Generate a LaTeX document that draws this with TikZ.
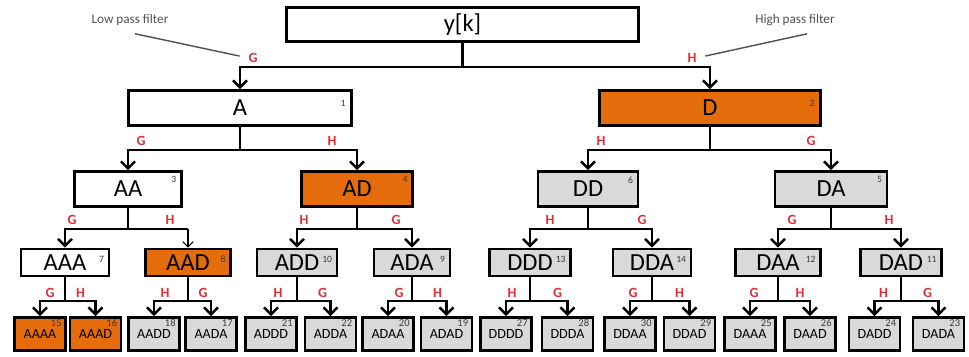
\documentclass[tikz,border=0pt]{standalone}
\usepackage{fontspec}
\setmainfont{Carlito}
\usetikzlibrary{arrows.meta}

\definecolor{bandorange}{RGB}{228,108,10}
\definecolor{bandgray}{RGB}{217,217,217}
\definecolor{fltred}{RGB}{226,46,52}
\definecolor{idxgray}{RGB}{60,60,60}
\definecolor{leadgray}{RGB}{80,80,80}

\tikzset{
  box/.style={draw, line width=1.6pt, inner sep=0pt, font=\fontsize{14}{14}\selectfont},
  leaf/.style={box, font=\fontsize{8}{8}\selectfont},
  keep/.style={fill=white},
  pick/.style={fill=bandorange},
  drop/.style={fill=bandgray},
  idx/.style={font=\fontsize{5.5}{5.5}\selectfont, text=idxgray, inner sep=0pt, anchor=north east},
  link/.style={line width=1.4pt, -{Straight Barb[length=4pt,width=8pt]}},
  thin link/.style={line width=0.6pt, -{Straight Barb[length=3pt,width=6pt]}},
  fltr/.style={text=fltred, font=\fontsize{8}{8}\selectfont\bfseries, inner sep=0pt},
  lead/.style={draw=leadgray, line width=0.8pt},
  leadtext/.style={text=leadgray, font=\fontsize{7.5}{7.5}\selectfont, inner sep=1pt},
}

\begin{document}
\begin{tikzpicture}[x=0.02cm, y=-0.02cm]
\useasboundingbox (0,0) rectangle (969,356);

% signal
\node[box, keep, minimum width=7.04cm, minimum height=0.68cm] (root) at (462.5,24.5) {y[k]};

% level 1
\foreach \n/\x/\w/\s/\k in {A/240/4.46/keep/1, D/710/4.42/pick/2}
  \node[box, \s, minimum width=\w cm, minimum height=0.70cm,
        label={[idx, xshift=-4pt, yshift=-6pt]north east:\k}] (\n) at (\x,108) {\n};

% level 2
\foreach \n/\x/\w/\s/\k in {AA/128/2.14/keep/3, AD/357/2.22/pick/4,
                            DD/588/2.0/drop/6, DA/831/2.24/drop/5}
  \node[box, \s, minimum width=\w cm, minimum height=0.70cm,
        label={[idx, xshift=-3.5pt, yshift=-3.5pt]north east:\k}] (\n) at (\x,189) {\n};

% level 3
\foreach \n/\x/\w/\s/\k in {AAA/65/1.76/keep/7, AAD/188/1.70/pick/8,
                            ADD/297/1.60/drop/10, ADA/412/1.52/drop/9,
                            DDD/530/1.62/drop/13, DDA/652/1.56/drop/14,
                            DAA/778/1.70/drop/12, DAD/901/1.62/drop/11}
  \node[box, \s, minimum width=\w cm, minimum height=0.54cm,
        label={[idx, xshift=-3.4pt, yshift=-4.5pt]north east:\k}] (\n) at (\x,262.5) {\n};

% level 4
\foreach \n/\x/\s/\k in {AAAA/40/pick/15, AAAD/95.5/pick/16, AADD/154/drop/18, AADA/211/drop/17,
                         ADDD/271/drop/21, ADDA/330.5/drop/22, ADAA/388/drop/20, ADAD/446.5/drop/19,
                         DDDD/506/drop/27, DDDA/567.5/drop/28, DDAA/630/drop/30, DDAD/689.5/drop/29,
                         DAAA/750/drop/25, DAAD/810/drop/26, DADD/874.5/drop/24, DADA/938.5/drop/23}
  \node[leaf, \s, minimum width=1.02cm, minimum height=0.66cm,
        label={[idx, font=\fontsize{6}{6}\selectfont, xshift=-2.8pt, yshift=-1.7pt]north east:\k}] (\n) at (\x,334) {\n};

% filter branches
\foreach \p/\c/\l/\o in {root/A/G/13, root/D/H/-18}
{
  \draw[link] (\p.south) -- ++(0,24) coordinate (bar-\c) -| (\c.north);
  \path (bar-\c -| \c.north) ++(\o,-9) node[fltr] (lbl-\c) {\l};
}
\foreach \p/\c/\l/\o in {A/AA/G/13, A/AD/H/-25, D/DD/H/13, D/DA/G/-20}
{
  \draw[link] (\p.south) -- ++(0,23) coordinate (bar-\c) -| (\c.north);
  \path (bar-\c -| \c.north) ++(\o,-9) node[fltr] (lbl-\c) {\l};
}
\foreach \p/\c/\l/\o in {AA/AAA/G/7, AD/ADD/H/7, AD/ADA/G/-16,
                         DD/DDD/H/20, DD/DDA/G/-10, DA/DAA/G/14, DA/DAD/H/-12}
{
  \draw[link] (\p.south) -- ++(0,21) coordinate (bar-\c) -| (\c.north);
  \path (bar-\c -| \c.north) ++(\o,-9) node[fltr] (lbl-\c) {\l};
}
% AA -> AAD ends in a thin arrow
\draw[line width=1.4pt] (AA.south) -- ++(0,21) coordinate (bar-AAD) -- (bar-AAD -| AAD.north);
\draw[thin link] (bar-AAD -| AAD.north) -- (AAD.north);
\path (bar-AAD -| AAD.north) ++(-18,-9) node[fltr] (lbl-AAD) {H};

\foreach \p/\c/\l/\o in {AAA/AAAA/G/10, AAA/AAAD/H/-15, AAD/AADD/H/11, AAD/AADA/G/-8,
                         ADD/ADDD/H/7, ADD/ADDA/G/-8, ADA/ADAA/G/11, ADA/ADAD/H/-9,
                         DDD/DDDD/H/6, DDD/DDDA/G/-10, DDA/DDAA/G/3, DDA/DDAD/H/-10,
                         DAA/DAAA/G/4, DAA/DAAD/H/-10, DAD/DADD/H/9, DAD/DADA/G/-11}
{
  \draw[link] (\p.south) -- ++(0,23.5) coordinate (bar-\c) -| (\c.north);
  \path (bar-\c -| \c.north) ++(\o,-8) node[fltr] (lbl-\c) {\l};
}

% filter notes
\node[leadtext] (lpf) at (130,20) {Low pass filter};
\node[leadtext] (hpf) at (795,20) {High pass filter};
\draw[lead, shorten >=5pt] (lpf.south) ++(5,6) -- (lbl-A.west);
\draw[lead, shorten >=5pt] (hpf.south) ++(12,6) -- (lbl-D.east);

\end{tikzpicture}
\end{document}
